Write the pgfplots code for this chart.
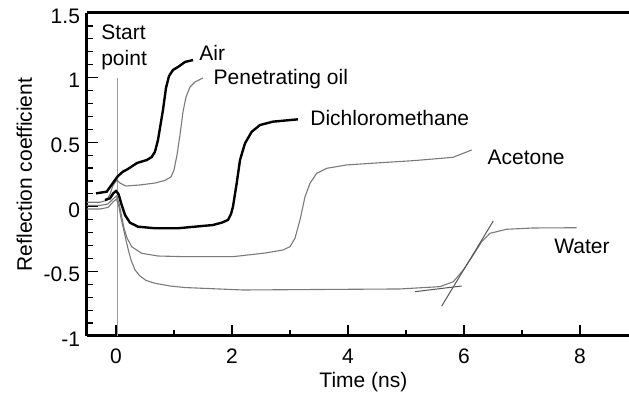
\documentclass[border=0pt]{standalone}
\usepackage{pgfplots}
\pgfplotsset{compat=1.18}
\usepackage{fontspec}
\setmainfont{Liberation Sans}
\definecolor{curvegray}{HTML}{7A7A7A}
\definecolor{startgray}{HTML}{9A9A9A}
\definecolor{tangray}{HTML}{555555}
\begin{document}
\begin{tikzpicture}[font=\fontsize{10.5}{12.6}\selectfont]
\begin{axis}[
  scale only axis,
  width=271pt, height=161.5pt,
  xmin=-0.5, xmax=8.845,
  ymin=-1, ymax=1.5,
  axis x line=box, axis y line=left,
  axis line style={line width=1.5pt, -},
  every outer y axis line/.append style={-},
  xtick={0,2,4,6,8},
  ytick={-1,-0.5,0,0.5,1,1.5},
  minor x tick num=1,
  minor y tick num=4,
  xtick pos=bottom, ytick pos=left,
  tick align=inside,
  major tick length=5.5pt,
  minor tick length=3pt,
  tick style={black, line width=0.6pt},
  /pgf/number format/assume math mode=true,
  yticklabel style={yshift=-1.5pt},
  xticklabel style={yshift=-3pt},
  xlabel={Time (ns)},
  ylabel={Reflection coefficient},
  xlabel style={at={(axis description cs:0.51,0)}, anchor=base, yshift=-26pt},
  ylabel style={at={(axis description cs:-0.1015,0.5)}, anchor=base},
  clip=false,
]
% Start point marker line
\addplot[startgray, line width=0.7pt] coordinates {(0.03,-1) (0.03,1.0)};
% Water
\addplot[curvegray, line width=0.55pt] coordinates {
(-0.5,-0.017) (-0.276,-0.017) (-0.138,-0.005) (-0.052,0.037) (0.009,0.06)
(0.052,-0.002) (0.086,-0.087) (0.126,-0.164) (0.172,-0.257) (0.212,-0.334)
(0.259,-0.412) (0.328,-0.489) (0.414,-0.536) (0.517,-0.570) (0.672,-0.592)
(0.931,-0.613) (1.19,-0.625) (2.19,-0.644) (3.517,-0.640) (4.897,-0.636)
(5.586,-0.618) (5.816,-0.58) (5.988,-0.489) (6.16,-0.373) (6.305,-0.27)
(6.448,-0.205) (6.736,-0.174) (7.195,-0.164) (7.943,-0.162)};
% Tangent lines
\addplot[tangray, line width=0.5pt] coordinates {(5.616,-0.768) (6.505,-0.110)};
\addplot[tangray, line width=0.5pt] coordinates {(5.155,-0.657) (5.96,-0.613)};
% Acetone
\addplot[curvegray, line width=0.55pt] coordinates {
(-0.5,0.010) (-0.276,0.010) (-0.138,0.022) (-0.052,0.060) (0.009,0.084)
(0.052,0.029) (0.098,-0.077) (0.138,-0.164) (0.19,-0.241) (0.271,-0.309)
(0.443,-0.36) (0.724,-0.381) (1.19,-0.386) (2.017,-0.386) (2.569,-0.358)
(2.879,-0.334) (3.0,-0.309) (3.086,-0.244) (3.172,-0.102) (3.259,0.078)
(3.345,0.182) (3.46,0.259) (3.633,0.298) (3.978,0.324) (4.552,0.341)
(5.126,0.357) (5.81,0.383) (5.983,0.413) (6.133,0.44)};
% Penetrating oil
\addplot[curvegray, line width=0.55pt] coordinates {
(-0.5,0.035) (-0.276,0.035) (-0.16,0.05) (-0.1,0.10) (-0.052,0.165) (0.017,0.207)
(0.069,0.184) (0.172,0.161) (0.414,0.169) (0.672,0.184) (0.845,0.204)
(0.948,0.231) (1.0,0.285) (1.052,0.401) (1.103,0.556) (1.155,0.734)
(1.207,0.85) (1.276,0.927) (1.362,0.966) (1.5,0.997)};
% Dichloromethane
\addplot[black, line width=1.2pt] coordinates {
(-0.19,0.053) (-0.103,0.066) (-0.047,0.104) (0.0,0.122) (0.043,0.099)
(0.098,0.014) (0.155,-0.063) (0.241,-0.123) (0.379,-0.154) (0.672,-0.166)
(1.069,-0.166) (1.478,-0.149) (1.672,-0.141) (1.828,-0.122) (1.931,-0.102)
(1.983,-0.056) (2.017,0.001) (2.081,0.182) (2.138,0.362) (2.224,0.491)
(2.34,0.581) (2.483,0.633) (2.707,0.659) (3.138,0.677)};
% Air
\addplot[black, line width=1.2pt] coordinates {
(-0.345,0.104) (-0.16,0.117) (-0.017,0.207) (0.034,0.238) (0.12,0.272)
(0.207,0.293) (0.362,0.339) (0.53,0.362) (0.615,0.385) (0.672,0.426)
(0.724,0.517) (0.767,0.633) (0.81,0.749) (0.862,0.92) (0.914,1.012)
(0.983,1.059) (1.069,1.082) (1.19,1.121) (1.328,1.136)};
% Labels
\node[anchor=base west, inner sep=0pt] at (axis cs:-0.26,1.291) {Start};
\node[anchor=base west, inner sep=0pt] at (axis cs:-0.26,1.09) {point};
\node[anchor=base west, inner sep=0pt] at (axis cs:1.431,1.136) {Air};
\node[anchor=base west, inner sep=0pt] at (axis cs:1.678,0.943) {Penetrating oil};
\node[anchor=base west, inner sep=0pt] at (axis cs:3.345,0.633) {Dichloromethane};
\node[anchor=base west, inner sep=0pt] at (axis cs:6.40,0.3235) {Acetone};
\node[anchor=base west, inner sep=0pt] at (axis cs:7.55,-0.36) {Water};
\end{axis}
\pgfresetboundingbox
\path[use as bounding box] (-43.5pt,-30pt) rectangle (271pt,168pt);
\end{tikzpicture}
\end{document}
